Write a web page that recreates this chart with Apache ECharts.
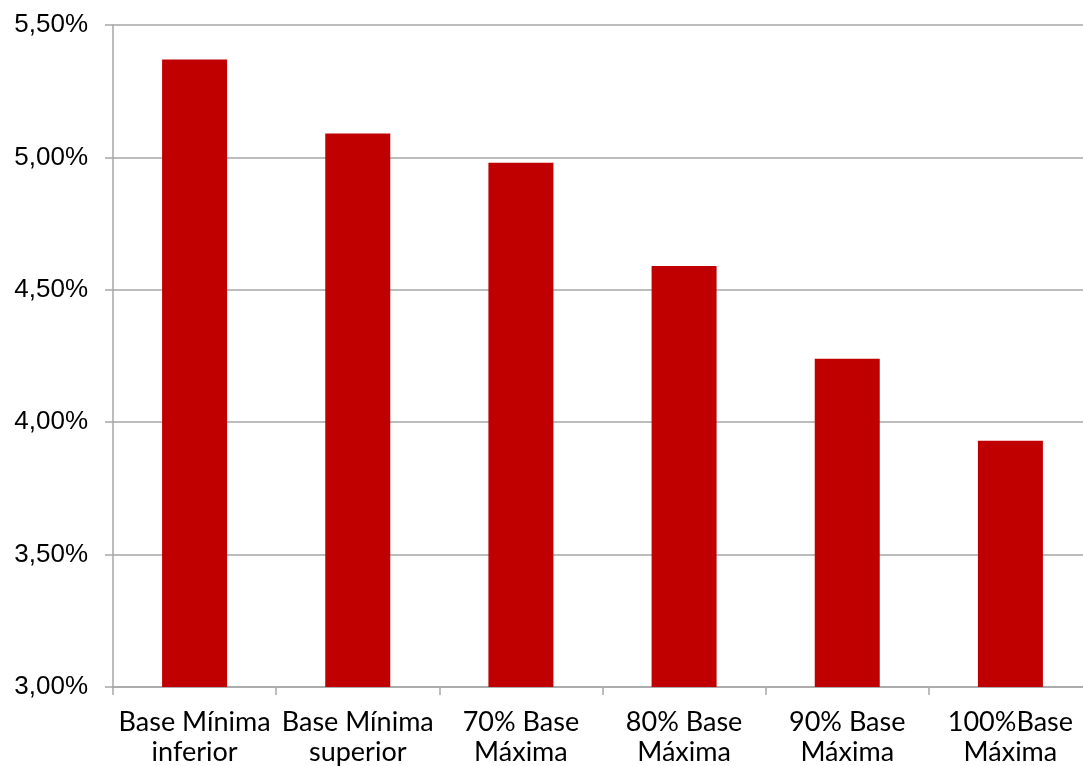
<!DOCTYPE html>
<html>
<head>
<meta charset="utf-8">
<script src="https://cdn.jsdelivr.net/npm/echarts@6/dist/echarts.min.js"></script>
<style>
  html, body { margin: 0; padding: 0; background: #ffffff; overflow: hidden; }
  #chart { width: 1083px; height: 766px; }
</style>
</head>
<body>
<div id="chart"></div>
<script>
// Categories (two-line labels) and the rate for each base, in percent
const categories = [
  'Base Mínima\ninferior',
  'Base Mínima\nsuperior',
  '70% Base\nMáxima',
  '80% Base\nMáxima',
  '90% Base\nMáxima',
  '100%Base\nMáxima'
];
const rates = [5.37, 5.09, 4.98, 4.59, 4.24, 3.93];

// Value axis range and step, in percent
const yMin = 3.0;
const yMax = 5.5;
const yStep = 0.5;

const chart = echarts.init(document.getElementById('chart'), null, { renderer: 'canvas' });

chart.setOption({
  animation: false,
  backgroundColor: '#ffffff',
  // plot runs slightly past the right edge, so the last category is clipped
  grid: { left: 113, right: -9, top: 25, bottom: 79, containLabel: false, outerBoundsMode: 'none' },
  xAxis: {
    type: 'category',
    data: categories,
    axisLine: { show: true, lineStyle: { color: '#a6a6a6', width: 1.5 } },
    axisTick: { show: true, length: 8, alignWithLabel: false, lineStyle: { color: '#a6a6a6', width: 1.5 } },
    axisLabel: {
      color: '#000000',
      fontFamily: 'Lato, "Open Sans", sans-serif',
      fontSize: 27,
      lineHeight: 30,
      margin: 20,
      interval: 0,
      hideOverlap: false
    },
    splitLine: { show: false }
  },
  yAxis: {
    type: 'value',
    min: yMin,
    max: yMax,
    interval: yStep,
    axisLine: { show: true, lineStyle: { color: '#a6a6a6', width: 1.5 } },
    axisTick: { show: true, inside: false, length: 8, lineStyle: { color: '#a6a6a6', width: 1.5 } },
    axisLabel: {
      color: '#000000',
      fontFamily: '"Liberation Sans", "DejaVu Sans", sans-serif',
      fontSize: 26,
      margin: 25,
      formatter: v => v.toFixed(2).replace('.', ',') + '%'
    },
    splitLine: { show: true, lineStyle: { color: '#a6a6a6', width: 1.5 } }
  },
  series: [{
    type: 'bar',
    data: rates,
    barWidth: 65,
    itemStyle: { color: '#c00000' }
  }]
});
</script>
</body>
</html>
